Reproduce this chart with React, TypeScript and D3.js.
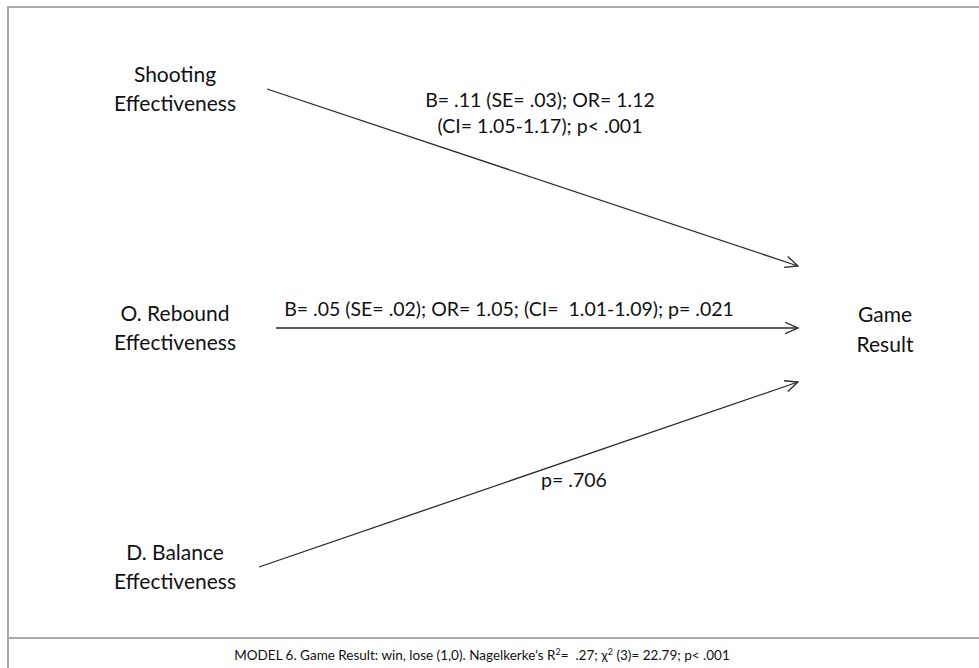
import React from "react";
import * as d3 from "d3";

const predictors = ["Shooting Effectiveness", "O. Rebound Effectiveness", "D. Balance Effectiveness"];
const predictorLines = [["Shooting", "Effectiveness"], ["O. Rebound", "Effectiveness"], ["D. Balance", "Effectiveness"]];
const pathLabels = [
  ["B= .11 (SE= .03); OR= 1.12", "(CI= 1.05-1.17); p< .001"],
  ["B= .05 (SE= .02); OR= 1.05; (CI=  1.01-1.09); p= .021"],
  ["p= .706"],
];
const outcomeLines = ["Game", "Result"];

const W = 979;
const H = 668;
const font = "Lato, 'Open Sans', sans-serif";
const ink = "#111";

export default function App() {
  // rows of the predictors on the left, and where each arrow lands on the right
  const yLeft = d3.scalePoint<string>().domain(predictors).range([89, 567]);
  const yTip = d3.scaleOrdinal<string, number>().domain(predictors).range([266, 328, 382]);
  const xStart = [267, 276, 259];
  const xTip = 798;
  const labelPos = [
    { x: 540, y: 100 },
    { x: 509, y: 309 },
    { x: 574, y: 480 },
  ];

  const line = d3.line<[number, number]>();

  const arrowHead = (x1: number, y1: number, x2: number, y2: number) => {
    const a = Math.atan2(y2 - y1, x2 - x1);
    const len = 14;
    const spread = 0.42;
    const p1: [number, number] = [x2 - len * Math.cos(a - spread), y2 - len * Math.sin(a - spread)];
    const p2: [number, number] = [x2 - len * Math.cos(a + spread), y2 - len * Math.sin(a + spread)];
    return line([p1, [x2, y2], p2]) as string;
  };

  return (
    <svg
      width={W}
      height={H}
      style={{ position: "absolute", left: 0, top: 0, background: "#fff" }}
      fontFamily={font}
    >
      {/* frame */}
      <g stroke="#aaa" strokeWidth={2} fill="none">
        <path d={line([[8, H], [8, 7], [W, 7]]) as string} />
        <path d={line([[8, 638], [W, 638]]) as string} />
      </g>

      {predictors.map((p, i) => {
        const y0 = yLeft(p) as number;
        const y1 = yTip(p);
        return (
          <g key={p}>
            <text textAnchor="middle" fontSize={21} fill={ink}>
              {predictorLines[i].map((t, j) => (
                <tspan key={j} x={175} y={y0 - 14 + j * 29 + 7}>
                  {t}
                </tspan>
              ))}
            </text>
            <path d={line([[xStart[i], y0], [xTip, y1]]) as string} stroke="#2a2a2a" strokeWidth={1.3} fill="none" />
            <path d={arrowHead(xStart[i], y0, xTip, y1)} stroke="#2a2a2a" strokeWidth={1.3} fill="none" />
            <text textAnchor="middle" fontSize={19.5} fill={ink}>
              {pathLabels[i].map((t, j) => (
                <tspan key={j} x={labelPos[i].x} y={labelPos[i].y + j * 26 + 7} style={{ whiteSpace: "pre" }}>
                  {t}
                </tspan>
              ))}
            </text>
          </g>
        );
      })}

      <text textAnchor="middle" fontSize={21} fill={ink}>
        {outcomeLines.map((t, j) => (
          <tspan key={j} x={885} y={315 + j * 30 + 7}>
            {t}
          </tspan>
        ))}
      </text>

      <text x={482} y={660} textAnchor="middle" fontSize={13.5} fill={ink}>
        MODEL 6. Game Result: win, lose (1,0). Nagelkerke’s R<tspan dy={-5} fontSize={9}>2</tspan>
        <tspan dy={5} style={{ whiteSpace: "pre" }}>=  .27; χ</tspan>
        <tspan dy={-5} fontSize={9}>2</tspan>
        <tspan dy={5}> (3)= 22.79; p&lt; .001</tspan>
      </text>
    </svg>
  );
}
